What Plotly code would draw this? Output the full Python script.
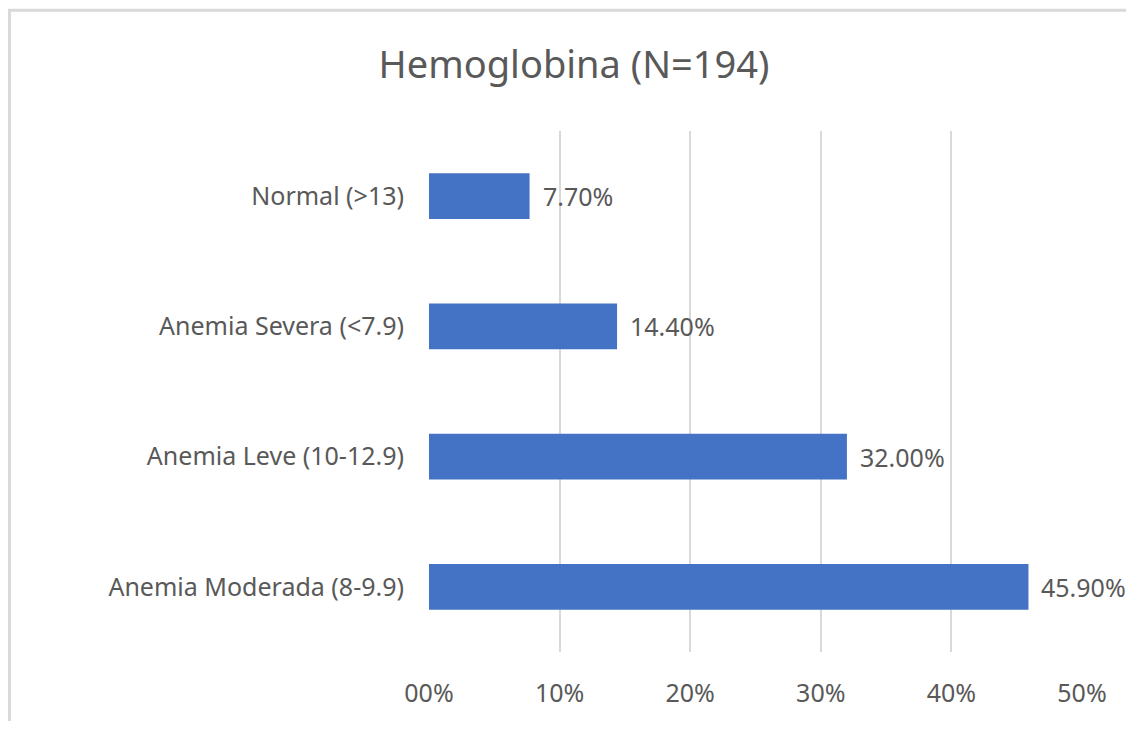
import plotly.graph_objects as go

categories = ["Anemia Moderada (8-9.9)", "Anemia Leve (10-12.9)", "Anemia Severa (<7.9)", "Normal (>13)"]
values = [45.9, 32.0, 14.4, 7.7]
tick_vals = [0, 10, 20, 30, 40, 50]
tick_text = ["00%", "10%", "20%", "30%", "40%", "50%"]

FONT = "Noto Sans"
GRAY = "#595959"

fig = go.Figure(go.Bar(
    y=categories, x=values, orientation="h",
    marker=dict(color="#4472C4", line=dict(width=0)),
))

for c, v in zip(categories, values):
    fig.add_annotation(x=v, y=c, text=f"{v:.2f}%", showarrow=False, xanchor="left",
                       yanchor="middle", xshift=11, font=dict(family=FONT, size=25, color=GRAY))

L, R, T, B = 421, 44, 123, 66
W, H = 1118, 713
pw, ph = W - L - R, H - T - B

fig.update_layout(
    width=W, height=H,
    margin=dict(l=L, r=R, t=T, b=B),
    paper_bgcolor="white", plot_bgcolor="white",
    bargap=0.65, showlegend=False,
    title=dict(text="Hemoglobina (N=194)", x=566 / W, xanchor="center", y=1 - 57 / H, yanchor="middle",
               font=dict(family=FONT, size=38, color=GRAY)),
    xaxis=dict(range=[0, 50], tickvals=tick_vals, ticktext=tick_text, showgrid=True,
               gridcolor="#d9d9d9", gridwidth=2, zeroline=False, showline=False,
               ticks="", ticklabelstandoff=24, tickfont=dict(family=FONT, size=25, color=GRAY)),
    yaxis=dict(range=[-0.5, 3.5], showgrid=False, zeroline=False, showline=False, ticks="",
               ticklabelstandoff=24, tickfont=dict(family=FONT, size=25, color=GRAY)),
    shapes=[dict(type="rect", xref="paper", yref="paper",
                 x0=(1.5 - L) / pw, x1=(W + 20 - L) / pw,
                 y0=-1, y1=(T + ph - 1.5) / ph,
                 line=dict(color="#d9d9d9", width=3), layer="below")],
)

fig.write_html("out.html")
